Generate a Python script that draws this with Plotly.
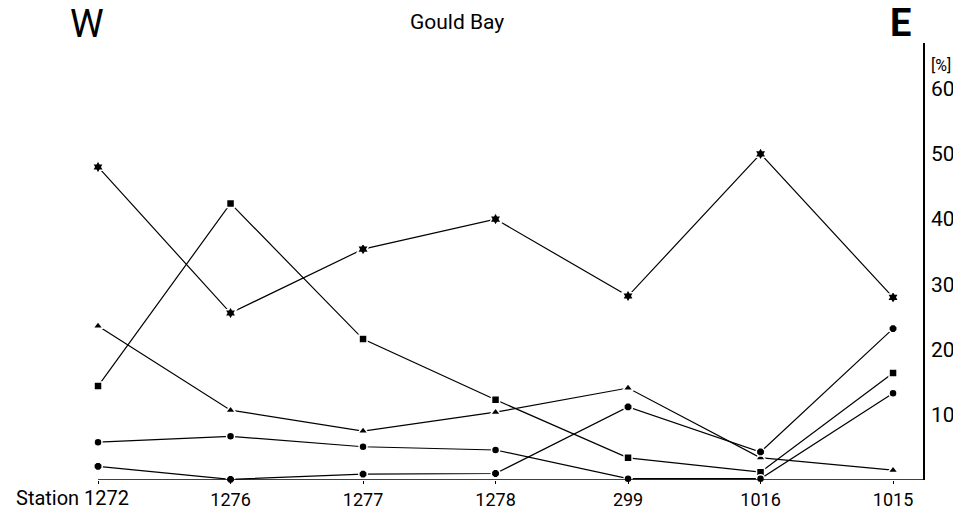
import plotly.graph_objects as go

stations = ["1272", "1276", "1277", "1278", "299", "1016", "1015"]
asterisk_vals = [48, 25.6, 35.4, 40, 28.2, 50, 28]
square_vals = [14.4, 42.4, 21.6, 12.3, 3.4, 1.2, 16.4]
triangle_vals = [23.6, 10.7, 7.5, 10.4, 14.1, 3.4, 1.5]
circle_vals = [5.8, 6.7, 5.1, 4.6, 0.2, 0.2, 13.3]
octagon_vals = [2.1, 0.1, 0.9, 1.0, 11.2, 4.3, 23.2]
y_ticks = [10, 20, 30, 40, 50, 60]

FONT = "Roboto, Liberation Sans, sans-serif"
xs = list(range(len(stations)))

series = [
    ("asterisk", asterisk_vals, "hexagram", 10),
    ("square", square_vals, "square", 8),
    ("triangle", triangle_vals, "triangle-up", 9),
    ("circle", circle_vals, "circle", 8),
    ("octagon", octagon_vals, "octagon", 9),
]

fig = go.Figure()
for name, vals, sym, size in series:
    fig.add_trace(go.Scatter(
        x=xs, y=vals, mode="lines+markers", name=name,
        line=dict(color="black", width=1.2),
        marker=dict(symbol=sym, size=size, color="black",
                    line=dict(color="white", width=1.5)),
        cliponaxis=False, showlegend=False,
    ))

# baseline (x axis line) from first station to right axis
fig.add_shape(type="line", xref="x", yref="y", x0=0, x1=6.226, y0=0, y1=0,
              line=dict(color="black", width=1.5))

PW = 905  # plot width in px
fig.update_layout(
    width=961, height=511,
    margin=dict(l=10, r=46, t=35, b=39),
    paper_bgcolor="white", plot_bgcolor="white",
    font=dict(family=FONT, color="black"),
    xaxis=dict(range=[-0.604, 6.226], tickvals=xs,
               ticktext=[""] + stations[1:],
               showgrid=False, zeroline=False, showline=False,
               automargin=False,
               ticks="outside", ticklen=3, tickcolor="black",
               ticklabelstandoff=0,
               tickfont=dict(size=18, family=FONT, color="black")),
    yaxis=dict(range=[0, 67], side="right", tickvals=y_ticks,
               ticktext=[str(v) for v in y_ticks],
               showgrid=False, zeroline=False, showline=True,
               automargin=False,
               linecolor="black", linewidth=1.5, ticks="",
               ticklabelstandoff=2,
               tickfont=dict(size=21, family=FONT, color="black")),
    annotations=[
        dict(text="Station 1272", xref="x", yref="paper", x=0, y=0,
             xanchor="right", yanchor="top", xshift=33, yshift=-4,
             showarrow=False, font=dict(size=20, family=FONT, color="black")),
        dict(text="W", xref="paper", yref="paper", x=(79 - 10) / PW, y=1,
             xanchor="center", yanchor="bottom", yshift=-5, showarrow=False,
             font=dict(size=38, family=FONT, color="black")),
        dict(text="Gould Bay", xref="paper", yref="paper", x=(449 - 10) / PW, y=1,
             xanchor="center", yanchor="bottom", yshift=7, showarrow=False,
             font=dict(size=21, family=FONT, color="black")),
        dict(text="<b>E</b>", xref="paper", yref="paper", x=1, y=1,
             xanchor="right", yanchor="bottom", xshift=-10, yshift=-4,
             showarrow=False,
             font=dict(size=38, family=FONT, color="black")),
        dict(text="[%]", xref="paper", yref="paper", x=1, y=1,
             xanchor="left", yanchor="top", xshift=6, yshift=-11,
             showarrow=False, font=dict(size=16, family=FONT, color="black")),
    ],
)

fig.write_html("out.html")
